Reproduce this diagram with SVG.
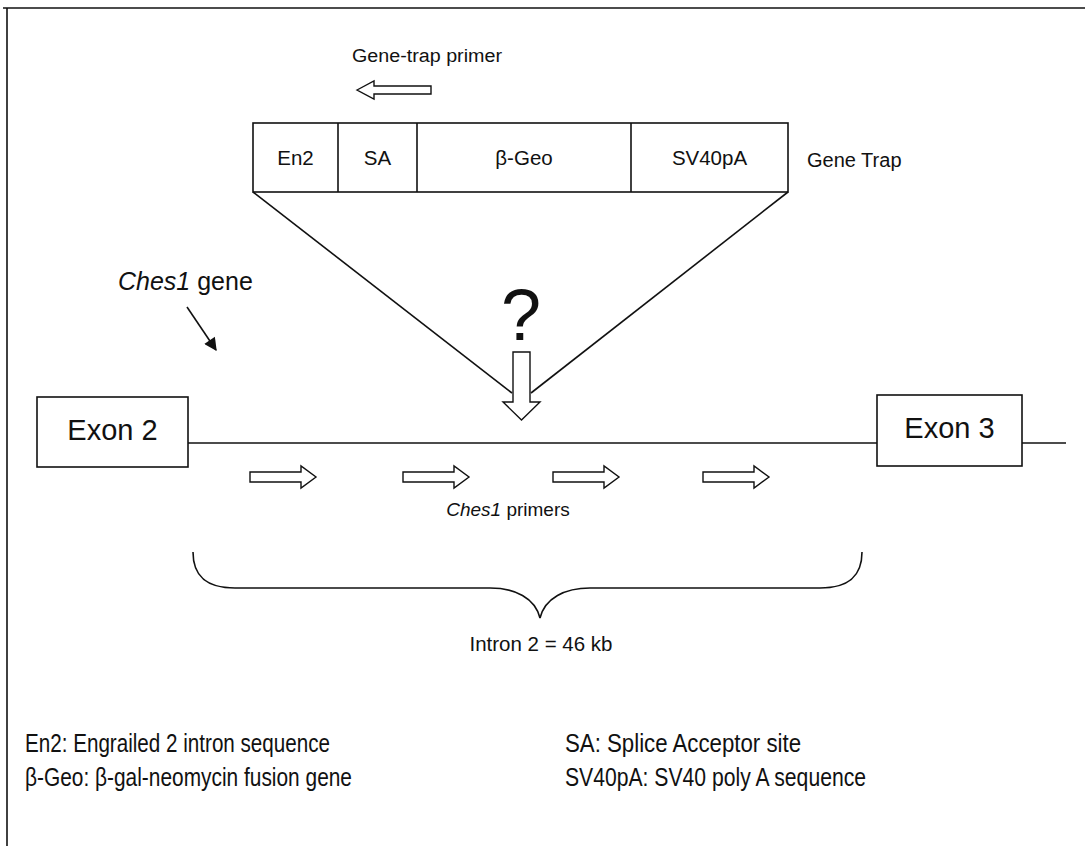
<svg xmlns="http://www.w3.org/2000/svg" width="1085" height="846" viewBox="0 0 1085 846">
<style>
text{font-family:"Liberation Sans",Arial,sans-serif;fill:#111}
.ln{stroke:#111;stroke-width:1.6;fill:none}
.bx{stroke:#111;stroke-width:1.6;fill:#fff}
.ha{stroke:#111;stroke-width:1.4;fill:#fff;stroke-linejoin:miter}
</style>
<defs>
<marker id="ah" viewBox="0 0 10 10" refX="9" refY="5" markerWidth="10" markerHeight="8" orient="auto" markerUnits="strokeWidth">
<path d="M0,0 L10,5 L0,10 z" fill="#111"/>
</marker>
<path id="rarrow" class="ha" d="M0,-5 L51,-5 L51,-11 L66,0 L51,11 L51,5 L0,5 z"/>
</defs>
<rect width="1085" height="846" fill="#fff"/>
<g id="frame">
<line class="ln" x1="3" y1="8" x2="1085" y2="8" stroke-width="2.5"/>
<line class="ln" x1="7" y1="8" x2="7" y2="846"/>
</g>
<g id="gene-trap-primer">
<text x="352" y="62" font-size="18" textLength="150" lengthAdjust="spacingAndGlyphs">Gene-trap primer</text>
<path class="ha" d="M357,90 L374,81 L374,86 L431,86 L431,94 L374,94 L374,99 z"/>
</g>
<g id="gene-trap">
<rect class="bx" x="253" y="123" width="535" height="69"/>
<line class="ln" x1="338" y1="123" x2="338" y2="192"/>
<line class="ln" x1="417" y1="123" x2="417" y2="192"/>
<line class="ln" x1="631" y1="123" x2="631" y2="192"/>
<text x="295.5" y="165" font-size="20.5" text-anchor="middle">En2</text>
<text x="377.5" y="165" font-size="20.5" text-anchor="middle">SA</text>
<text x="524" y="165" font-size="20.5" text-anchor="middle">β-Geo</text>
<text x="709.5" y="165" font-size="20.5" text-anchor="middle">SV40pA</text>
<text x="807" y="167" font-size="20">Gene Trap</text>
</g>
<g id="insertion">
<text x="521" y="340" font-size="72" text-anchor="middle">?</text>
<path class="ha" d="M513,352 L530,352 L530,402 L540,402 L521.5,420 L503,402 L513,402 z"/>
</g>
<g id="ches1-label">
<text x="118" y="290" font-size="25"><tspan font-style="italic">Ches1</tspan> gene</text>
</g>
<g id="exon2">
<rect class="bx" x="37" y="397" width="151" height="70"/>
<text x="112.5" y="440" font-size="29" text-anchor="middle">Exon 2</text>
</g>
<g id="exon3">
<rect class="bx" x="877" y="395" width="145" height="71"/>
<text x="949.5" y="438" font-size="29" text-anchor="middle">Exon 3</text>
</g>
<g id="primers">
<use href="#rarrow" x="250" y="477"/>
<use href="#rarrow" x="403" y="477"/>
<use href="#rarrow" x="553" y="477"/>
<use href="#rarrow" x="703" y="477"/>
<text x="508" y="516" font-size="19" text-anchor="middle"><tspan font-style="italic">Ches1</tspan> primers</text>
</g>
<g id="intron-brace">
<path class="ln" d="M193,552 C193,575 205,588 235,588 L490,588 C515,588 535,598 540,618 C545,598 565,588 590,588 L820,588 C850,588 862,575 862,552"/>
<text x="541" y="651" font-size="20.5" text-anchor="middle">Intron 2 = 46 kb</text>
</g>
<g id="legend">
<text x="25" y="752" font-size="25" textLength="305" lengthAdjust="spacingAndGlyphs">En2: Engrailed 2 intron sequence</text>
<text x="25" y="786" font-size="25" textLength="327" lengthAdjust="spacingAndGlyphs">β-Geo: β-gal-neomycin fusion gene</text>
<text x="565" y="752" font-size="25" textLength="236" lengthAdjust="spacingAndGlyphs">SA: Splice Acceptor site</text>
<text x="565" y="786" font-size="25" textLength="301" lengthAdjust="spacingAndGlyphs">SV40pA: SV40 poly A sequence</text>
</g>
<g id="connectors">
<line class="ln" x1="253" y1="192" x2="512" y2="393"/>
<line class="ln" x1="788" y1="192" x2="531" y2="393"/>
<line class="ln" x1="188" y1="443" x2="877" y2="443"/>
<line class="ln" x1="1022" y1="443" x2="1066" y2="443"/>
<line class="ln" x1="187" y1="307" x2="216" y2="350" marker-end="url(#ah)"/>
</g>
</svg>
